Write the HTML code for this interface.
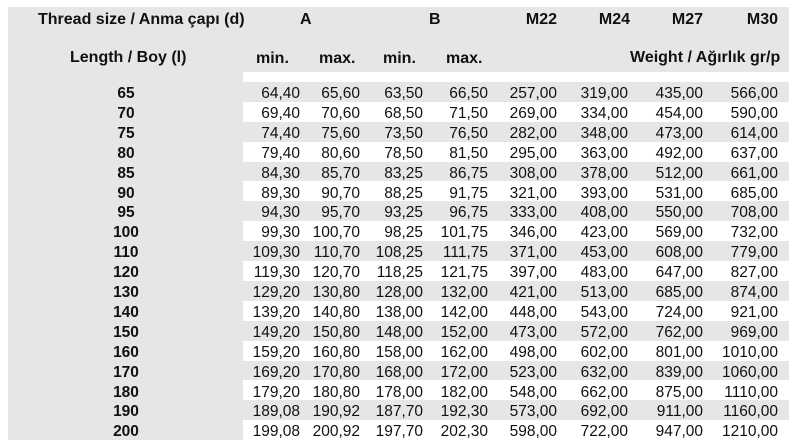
<!DOCTYPE html>
<html><head><meta charset="utf-8"><style>
body{margin:0;width:800px;height:446px;background:#fff;font-family:"Liberation Sans",Arial,sans-serif;position:relative;overflow:hidden}
.bg{position:absolute;background:#e6e6e6}
.t{position:absolute;font-size:15.5px;color:#111;white-space:nowrap;line-height:20px}
.b{font-weight:bold}
.h{font-size:16px}
</style></head><body>
<div class="bg" style="left:8px;top:7px;width:781px;height:65px"></div>
<div class="bg" style="left:8px;top:72px;width:235px;height:368px"></div>
<div class="t b h" style="left:38px;top:10px">Thread size / Anma çapı (d)</div>
<div class="t b h" style="left:300px;top:10px">A</div>
<div class="t b h" style="left:429px;top:10px">B</div>
<div class="t b h" style="left:507px;top:10px;width:50px;text-align:right">M22</div>
<div class="t b h" style="left:580px;top:10px;width:50px;text-align:right">M24</div>
<div class="t b h" style="left:653px;top:10px;width:50px;text-align:right">M27</div>
<div class="t b h" style="left:728px;top:10px;width:50px;text-align:right">M30</div>
<div class="t b h" style="left:70px;top:48px">Length / Boy (l)</div>
<div class="t b h" style="left:256px;top:49px">min.</div>
<div class="t b h" style="left:319px;top:49px">max.</div>
<div class="t b h" style="left:383px;top:49px">min.</div>
<div class="t b h" style="left:446px;top:49px">max.</div>
<div class="t b h" style="left:630px;top:48px">Weight / Ağırlık gr/p</div>
<div id="rows"></div>
<script>
var d=[["65","64,40","65,60","63,50","66,50","257,00","319,00","435,00","566,00"],
["70","69,40","70,60","68,50","71,50","269,00","334,00","454,00","590,00"],
["75","74,40","75,60","73,50","76,50","282,00","348,00","473,00","614,00"],
["80","79,40","80,60","78,50","81,50","295,00","363,00","492,00","637,00"],
["85","84,30","85,70","83,25","86,75","308,00","378,00","512,00","661,00"],
["90","89,30","90,70","88,25","91,75","321,00","393,00","531,00","685,00"],
["95","94,30","95,70","93,25","96,75","333,00","408,00","550,00","708,00"],
["100","99,30","100,70","98,25","101,75","346,00","423,00","569,00","732,00"],
["110","109,30","110,70","108,25","111,75","371,00","453,00","608,00","779,00"],
["120","119,30","120,70","118,25","121,75","397,00","483,00","647,00","827,00"],
["130","129,20","130,80","128,00","132,00","421,00","513,00","685,00","874,00"],
["140","139,20","140,80","138,00","142,00","448,00","543,00","724,00","921,00"],
["150","149,20","150,80","148,00","152,00","473,00","572,00","762,00","969,00"],
["160","159,20","160,80","158,00","162,00","498,00","602,00","801,00","1010,00"],
["170","169,20","170,80","168,00","172,00","523,00","632,00","839,00","1060,00"],
["180","179,20","180,80","178,00","182,00","548,00","662,00","875,00","1110,00"],
["190","189,08","190,92","187,70","192,30","573,00","692,00","911,00","1160,00"],
["200","199,08","200,92","197,70","202,30","598,00","722,00","947,00","1210,00"]];
var r=[300,360,423,488,557,628,703,778],h='';
for(var i=0;i<d.length;i++){var y=82+i*19.9;var ty=y+2;
if(i%2==0)h+='<div class="bg" style="left:243px;top:'+y+'px;width:546px;height:19.9px"></div>';
h+='<div class="t b" style="left:96px;width:60px;text-align:center;top:'+ty+'px">'+d[i][0]+'</div>';
for(var j=1;j<9;j++)h+='<div class="t" style="left:'+(r[j-1]-80)+'px;width:80px;text-align:right;top:'+ty+'px">'+d[i][j]+'</div>';}
document.getElementById('rows').innerHTML=h;
</script>
</body></html>
